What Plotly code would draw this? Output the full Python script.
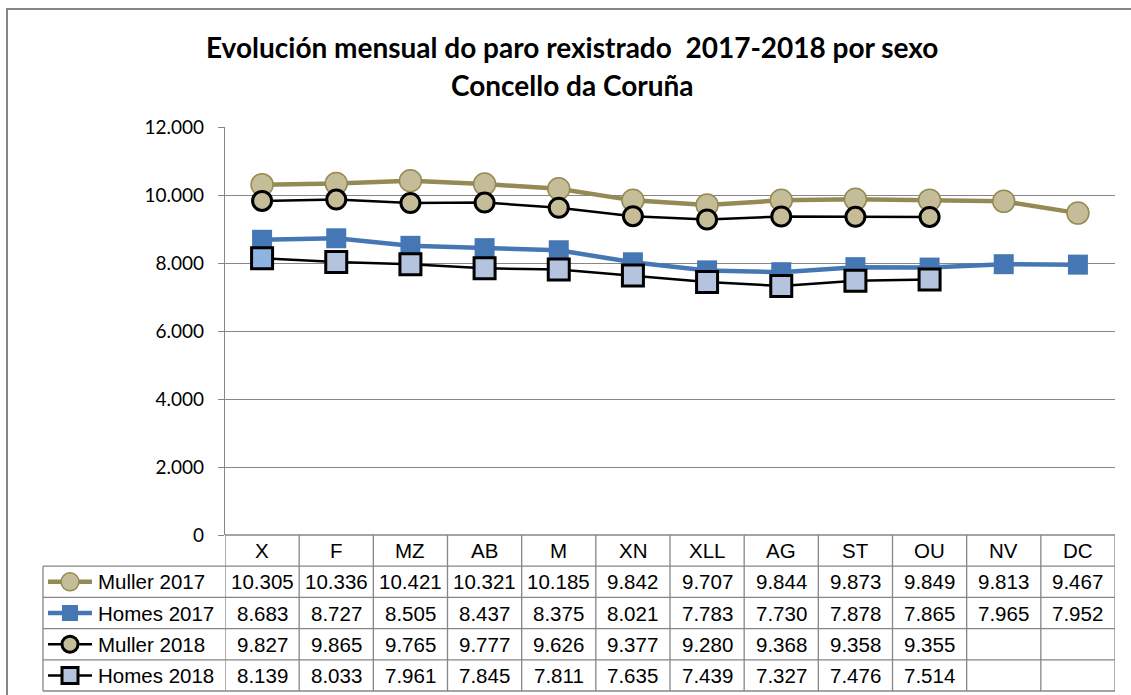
import plotly.graph_objects as go

months = ["X", "F", "MZ", "AB", "M", "XN", "XLL", "AG", "ST", "OU", "NV", "DC"]
muller_2017 = [10305, 10336, 10421, 10321, 10185, 9842, 9707, 9844, 9873, 9849, 9813, 9467]
homes_2017 = [8683, 8727, 8505, 8437, 8375, 8021, 7783, 7730, 7878, 7865, 7965, 7952]
muller_2018 = [9827, 9865, 9765, 9777, 9626, 9377, 9280, 9368, 9358, 9355, None, None]
homes_2018 = [8139, 8033, 7961, 7845, 7811, 7635, 7439, 7327, 7476, 7514, None, None]
series_names = ["Muller 2017", "Homes 2017", "Muller 2018", "Homes 2018"]
y_ticks = [0, 2000, 4000, 6000, 8000, 10000, 12000]
title_lines = ["Evolución mensual do paro rexistrado  2017-2018 por sexo", "Concello da Coruña"]

W, H = 1131, 695
L, R, T, B = 225, 1115, 127, 535
GRID = "#868686"
OLIVE = "#948A54"
TAN = "#C4BD97"
BLUE = "#4677B5"
LBLUE = "#B4C3DE"

def px_x(px):
    return (px - L) / (R - L)

def px_y(py):
    return (B - py) / (B - T)

fig = go.Figure()

fig.add_trace(go.Scatter(
    x=months, y=muller_2017, name=series_names[0], mode="lines+markers",
    line=dict(color=OLIVE, width=4.5),
    marker=dict(symbol="circle", size=22, color=TAN, line=dict(color=OLIVE, width=1.5)),
))
fig.add_trace(go.Scatter(
    x=months, y=homes_2017, name=series_names[1], mode="lines+markers",
    line=dict(color=BLUE, width=4.5),
    marker=dict(symbol="square", size=20, color=BLUE, line=dict(width=0)),
))
fig.add_trace(go.Scatter(
    x=months, y=muller_2018, name=series_names[2], mode="lines+markers",
    line=dict(color="black", width=2.5),
    marker=dict(symbol="circle", size=19, color=TAN, line=dict(color="black", width=3)),
))
h18_colors = ["#8EB4E3"] + [LBLUE] * (len(months) - 1)
fig.add_trace(go.Scatter(
    x=months, y=homes_2018, name=series_names[3], mode="lines+markers",
    line=dict(color="black", width=2.5),
    marker=dict(symbol="square", size=21, color=h18_colors, line=dict(color="black", width=3)),
))

shapes = []
annotations = []

# outer chart border
shapes.append(dict(type="rect", xref="paper", yref="paper",
                   x0=px_x(7), x1=px_x(1140), y0=px_y(9), y1=px_y(700),
                   line=dict(color=GRID, width=2), fillcolor="rgba(0,0,0,0)", layer="below"))

# data table
row_edges = [535, 566.2, 597.4, 628.6, 659.8, 691]
n = len(months)
shapes.append(dict(type="line", xref="paper", yref="paper", x0=0, x1=1,
                   y0=px_y(row_edges[0]), y1=px_y(row_edges[0]), line=dict(color=GRID, width=1.3)))
for ry in row_edges[1:]:
    shapes.append(dict(type="line", xref="paper", yref="paper", x0=px_x(43), x1=1,
                       y0=px_y(ry), y1=px_y(ry), line=dict(color=GRID, width=1.3)))
for i in range(n + 1):
    shapes.append(dict(type="line", xref="x", yref="paper", x0=i - 0.5, x1=i - 0.5,
                       y0=px_y(row_edges[0]), y1=px_y(row_edges[-1]), line=dict(color=GRID, width=1.3)))
shapes.append(dict(type="line", xref="paper", yref="paper", x0=px_x(43), x1=px_x(43),
                   y0=px_y(row_edges[1]), y1=px_y(row_edges[-1]), line=dict(color=GRID, width=1.3)))

TFONT = dict(family="Liberation Sans, Arial", size=20.5, color="black")

hc = (row_edges[0] + row_edges[1]) / 2
for i, m in enumerate(months):
    annotations.append(dict(x=i, y=px_y(hc), xref="x", yref="paper", text=m, showarrow=False,
                            font=TFONT, xanchor="center", yanchor="middle"))

def fmt(v):
    return f"{v:,}".replace(",", ".")

all_series = [muller_2017, homes_2017, muller_2018, homes_2018]
key_styles = [
    dict(lc=OLIVE, lw=4.5, sym="circle", fill=TAN, bc=OLIVE, bw=1.5, r=9),
    dict(lc=BLUE, lw=4.5, sym="square", fill=BLUE, bc=BLUE, bw=0, r=8),
    dict(lc="black", lw=2.5, sym="circle", fill=TAN, bc="black", bw=3, r=8),
    dict(lc="black", lw=2.5, sym="square", fill="#B4C3DE", bc="black", bw=3, r=8),
]
for r_i, (vals, name, ks) in enumerate(zip(all_series, series_names, key_styles)):
    cy = (row_edges[r_i + 1] + row_edges[r_i + 2]) / 2
    annotations.append(dict(x=px_x(96), y=px_y(cy), xref="paper", yref="paper", text=name,
                            showarrow=False, font=TFONT, xanchor="left", yanchor="middle"))
    for i, v in enumerate(vals):
        if v is None:
            continue
        annotations.append(dict(x=i, y=px_y(cy), xref="x", yref="paper", text=fmt(v),
                                showarrow=False, font=TFONT, xanchor="center", yanchor="middle"))
    shapes.append(dict(type="line", xref="paper", yref="paper", x0=px_x(48), x1=px_x(92),
                       y0=px_y(cy), y1=px_y(cy), line=dict(color=ks["lc"], width=ks["lw"])))
    shp = "circle" if ks["sym"] == "circle" else "rect"
    rr = ks["r"]
    shapes.append(dict(type=shp, xref="paper", yref="paper",
                       x0=px_x(70 - rr), x1=px_x(70 + rr), y0=px_y(cy - rr), y1=px_y(cy + rr),
                       fillcolor=ks["fill"], line=dict(color=ks["bc"], width=ks["bw"] if ks["bw"] else 0)))

TITLEFONT = dict(family="Lato", size=28, color="black", weight="bold")
annotations.append(dict(x=px_x(572), y=px_y(47), xref="paper", yref="paper", text=f"<b>{title_lines[0]}</b>",
                        showarrow=False, font=TITLEFONT, xanchor="center", yanchor="middle"))
annotations.append(dict(x=px_x(572), y=px_y(85), xref="paper", yref="paper", text=f"<b>{title_lines[1]}</b>",
                        showarrow=False, font=TITLEFONT, xanchor="center", yanchor="middle"))

fig.update_layout(
    width=W, height=H,
    margin=dict(l=L, r=W - R, t=T, b=H - B, pad=0),
    paper_bgcolor="white", plot_bgcolor="white",
    showlegend=False,
    separators=",.",
    shapes=shapes, annotations=annotations,
    xaxis=dict(type="category", range=[-0.5, n - 0.5], showticklabels=False, showgrid=False,
               zeroline=False, showline=False, ticks=""),
    yaxis=dict(range=[0, 12000], tickvals=y_ticks, tickformat=",d", showgrid=True, gridcolor=GRID,
               gridwidth=1, zeroline=False, showline=True, linecolor=GRID, linewidth=1.3,
               ticks="outside", ticklen=6, tickcolor=GRID, tickwidth=1.3,
               tickfont=dict(family="Lato", size=19, color="black"), ticklabelstandoff=10),
)

fig.write_html("out.html", config={"displayModeBar": False},
               post_script="document.body.style.margin='0';document.body.style.overflow='hidden';")
